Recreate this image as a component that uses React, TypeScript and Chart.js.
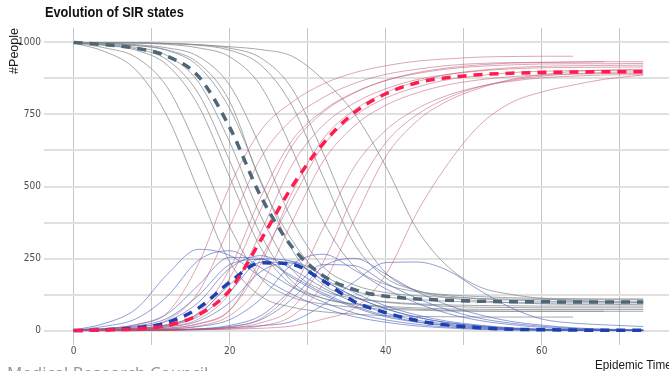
import React, { useEffect, useRef } from "react";
import { Chart, registerables } from "chart.js";

Chart.register(...registerables);

// Epidemic time grid
const T = [0, 4, 8, 12, 16, 20, 24, 28, 32, 36, 40, 44, 48, 52, 56, 60, 64, 68, 73];

const X_GRID = [0, 10, 20, 30, 40, 50, 60, 70];
const X_LABELS = [0, 20, 40, 60];
const Y_GRID = [0, 125, 250, 375, 500, 625, 750, 875, 1000];
const Y_LABELS = [0, 250, 500, 750, 1000];

// Mean trajectories (dashed)
const meanS = [1000, 992, 980, 952, 882, 705, 465, 290, 190, 142, 119, 110, 105, 102, 100, 100, 99, 99, 99];
const meanI = [0, 3, 10, 28, 78, 168, 235, 230, 172, 100, 62, 35, 19, 10, 5, 3, 2, 1, 1];
const meanR = [0, 2, 6, 18, 55, 140, 315, 500, 650, 757, 822, 860, 878, 888, 893, 896, 897, 898, 898];

// Individual simulations: Susceptible
const S_A = [998, 968, 904, 743, 486, 238, 119, 81, 65, 57, 52, 49, 48, 47, 47, 47, 47, null, null];
const S_B = [999, 981, 948, 844, 622, 361, 182, 116, 92, 81, 74, 71, 68, 67, 67, 67, 67, 67, 67];
const S_C = [999, 990, 973, 921, 780, 532, 286, 157, 112, 93, 84, 79, 75, 74, 73, 73, 73, 73, 73];
const S_D = [999, 991, 978, 939, 822, 589, 332, 170, 112, 90, 80, 74, 70, 68, 67, 67, 67, 67, null];
const S_E = [999, 992, 983, 954, 862, 654, 397, 212, 139, 112, 100, 93, 89, 87, 86, 85, 85, 85, 85];
const S_F = [999, 996, 989, 972, 917, 770, 519, 280, 159, 116, 98, 90, 84, 81, 80, 79, 79, 79, 79];
const S_G = [999, 997, 990, 974, 928, 795, 513, 313, 184, 137, 117, 108, 102, 99, 97, 96, 96, 96, 96];
const S_H = [999, 998, 992, 981, 951, 851, 634, 384, 221, 158, 132, 121, 115, 111, 109, 108, 107, 107, 107];
const S_I = [999, 999, 998, 993, 981, 950, 848, 628, 379, 221, 160, 135, 124, 118, 114, 112, 111, 110, 110];
const S_J = [999, 999, 999, 996, 990, 973, 921, 780, 532, 300, 183, 139, 120, 111, 106, 102, 101, 100, 100];
const S_K = [999, 999, 999, 997, 992, 980, 946, 839, 615, 362, 200, 138, 114, 104, 97, 93, 91, 91, 90];
const S_L = [999, 999, 998, 996, 992, 985, 975, 952, 870, 752, 570, 352, 221, 152, 126, 112, 105, 100, 97];

// Individual simulations: Infected
const I_A = [2, 25, 75, 195, 282, 261, 186, 126, 79, 48, 29, 16, 9, 4, 2, 1, 1, null, null];
const I_B = [1, 15, 41, 119, 244, 277, 218, 151, 99, 61, 37, 22, 12, 6, 3, 2, 1, 0, 0];
const I_C = [1, 7, 20, 58, 158, 254, 250, 183, 124, 80, 48, 29, 17, 9, 5, 2, 1, 1, 0];
const I_D = [1, 6, 16, 43, 122, 229, 247, 189, 130, 85, 52, 31, 18, 10, 5, 3, 1, 0, null];
const I_E = [1, 5, 13, 33, 98, 216, 260, 213, 148, 98, 61, 36, 22, 12, 6, 3, 2, 1, 0];
const I_F = [1, 3, 8, 20, 59, 159, 249, 241, 175, 118, 76, 46, 27, 16, 8, 4, 2, 1, 0];
const I_G = [1, 2, 6, 17, 49, 135, 237, 234, 174, 118, 76, 47, 27, 16, 8, 4, 2, 1, 0];
const I_H = [1, 2, 4, 13, 33, 97, 205, 238, 191, 131, 86, 54, 32, 19, 10, 5, 3, 1, 0];
const I_I = [1, 1, 2, 5, 14, 38, 110, 230, 265, 210, 145, 95, 59, 35, 21, 11, 6, 3, 2];
const I_J = [1, 1, 1, 3, 6, 18, 52, 142, 229, 225, 165, 112, 72, 43, 26, 15, 8, 4, 2];
const I_K = [1, 1, 1, 2, 5, 14, 38, 110, 222, 251, 196, 135, 88, 55, 32, 19, 10, 5, 3];
const I_L = [1, 1, 2, 3, 5, 10, 17, 32, 90, 170, 236, 238, 208, 140, 80, 40, 26, 20, 14];

// Individual simulations: Recovered
const R_A = [0, 7, 21, 62, 232, 501, 695, 793, 856, 895, 919, 935, 943, 949, 951, 952, 952, null, null];
const R_B = [0, 4, 11, 37, 134, 362, 600, 733, 809, 858, 889, 907, 920, 927, 930, 931, 932, 933, 933];
const R_C = [0, 3, 7, 21, 62, 214, 464, 660, 764, 827, 868, 892, 908, 917, 922, 925, 926, 926, 927];
const R_D = [0, 3, 6, 18, 56, 182, 421, 641, 758, 825, 868, 895, 912, 922, 928, 930, 932, 933, null];
const R_E = [0, 3, 4, 13, 40, 130, 343, 575, 713, 790, 839, 871, 889, 901, 908, 912, 913, 914, 915];
const R_F = [0, 1, 3, 8, 24, 71, 232, 479, 666, 766, 826, 864, 889, 903, 912, 917, 919, 920, 921];
const R_G = [0, 1, 4, 9, 23, 70, 250, 453, 642, 745, 807, 845, 871, 885, 895, 900, 902, 903, 904];
const R_H = [0, 0, 4, 6, 16, 52, 161, 378, 588, 711, 782, 825, 853, 870, 881, 887, 890, 892, 893];
const R_I = [0, 0, 0, 2, 5, 12, 42, 142, 356, 569, 695, 770, 817, 847, 865, 877, 883, 887, 888];
const R_J = [0, 0, 0, 1, 4, 9, 27, 78, 239, 475, 652, 749, 808, 846, 868, 883, 891, 896, 898];
const R_K = [0, 0, 0, 1, 3, 6, 16, 51, 163, 387, 604, 727, 798, 841, 871, 888, 899, 904, 907];
const R_L = [0, 0, 0, 1, 3, 5, 8, 16, 40, 78, 194, 410, 580, 712, 790, 828, 852, 872, 887];

const SIMS_S = [S_A, S_B, S_C, S_D, S_E, S_F, S_G, S_H, S_I, S_J, S_K, S_L];
const SIMS_I = [I_A, I_B, I_C, I_D, I_E, I_F, I_G, I_H, I_I, I_J, I_K, I_L];
const SIMS_R = [R_A, R_B, R_C, R_D, R_E, R_F, R_G, R_H, R_I, R_J, R_K, R_L];

const TICK_FONT = "'Liberation Sans Narrow', 'Arial Narrow', 'DejaVu Sans Condensed', 'Liberation Sans', Arial, sans-serif";

export default function App() {
  const ref = useRef<HTMLCanvasElement>(null);

  useEffect(() => {
    if (!ref.current) return;
    const pts = (arr: (number | null)[]) =>
      T.map((t, i) => (arr[i] == null ? null : { x: t, y: arr[i] as number })).filter(Boolean);
    const thin = (arr: (number | null)[], color: string) => ({
      data: pts(arr),
      borderColor: color,
      borderWidth: 1,
      pointRadius: 0,
      fill: false,
      cubicInterpolationMode: "monotone",
    });
    const mean = (arr: (number | null)[], color: string) => ({
      data: pts(arr),
      borderColor: color,
      borderWidth: 3.5,
      borderDash: [9, 7],
      pointRadius: 0,
      fill: false,
      cubicInterpolationMode: "monotone",
    });

    const datasets: any[] = [
      mean(meanR, "#ff1c4d"),
      mean(meanI, "#1c40b4"),
      mean(meanS, "#4e6676"),
      ...SIMS_R.map((a) => thin(a, "rgba(190,80,112,0.5)")),
      ...SIMS_I.map((a) => thin(a, "rgba(70,95,185,0.6)")),
      ...SIMS_S.map((a) => thin(a, "rgba(135,140,145,0.75)")),
    ];

    const chart = new Chart(ref.current, {
      type: "line",
      data: { datasets },
      options: {
        animation: false,
        responsive: false,
        layout: { padding: { top: 28, left: 0, right: 0, bottom: 0 } },
        plugins: {
          legend: { display: false },
          tooltip: { enabled: false },
          title: { display: false },
        },
        scales: {
          x: {
            type: "linear",
            min: -3.8,
            max: 76.3,
            afterBuildTicks: (s: any) => {
              s.ticks = X_GRID.map((v) => ({ value: v }));
            },
            afterFit: (s: any) => {
              s.height = 26;
            },
            ticks: {
              autoSkip: false,
              maxRotation: 0,
              padding: 0,
              color: "#4d4d4d",
              font: { family: TICK_FONT, size: 10 },
              callback: (v: any) => (X_LABELS.includes(Number(v)) ? String(v) : ""),
            },
            grid: { color: "#c6c6c6", lineWidth: 1, drawTicks: false },
            border: { display: false },
          },
          y: {
            type: "linear",
            min: -50,
            max: 1050,
            afterBuildTicks: (s: any) => {
              s.ticks = Y_GRID.map((v) => ({ value: v }));
            },
            afterFit: (s: any) => {
              s.width = 44;
            },
            ticks: {
              padding: 3,
              color: "#4d4d4d",
              font: { family: TICK_FONT, size: 10 },
              callback: (v: any) => (Y_LABELS.includes(Number(v)) ? String(v) : ""),
            },
            grid: { color: "#e0e0e0", lineWidth: 2, drawTicks: false },
            border: { display: false },
          },
        },
      } as any,
    });
    return () => chart.destroy();
  }, []);

  return (
    <div
      style={{
        position: "fixed",
        left: 0,
        top: 0,
        width: 669,
        height: 371,
        overflow: "hidden",
        background: "#ffffff",
      }}
    >
      <canvas ref={ref} width={669} height={371} style={{ display: "block", position: "absolute", left: 0, top: 0 }} />
      <div
        style={{
          position: "absolute",
          left: 45,
          top: 5,
          fontFamily: "'Liberation Sans', Arial, sans-serif",
          fontWeight: "bold",
          fontSize: 14,
          lineHeight: "14px",
          color: "#111",
          whiteSpace: "nowrap",
          transform: "scaleX(0.91)",
          transformOrigin: "left top",
        }}
      >
        Evolution of SIR states
      </div>
      <div
        style={{
          position: "absolute",
          left: 8,
          top: 28,
          fontFamily: "'Liberation Sans', Arial, sans-serif",
          fontSize: 12.5,
          lineHeight: "12.5px",
          color: "#1a1a1a",
          whiteSpace: "nowrap",
          writingMode: "vertical-rl",
          transform: "rotate(180deg)",
        }}
      >
        #People
      </div>
      <div
        style={{
          position: "absolute",
          left: 595,
          top: 357.5,
          fontFamily: "'Liberation Sans', Arial, sans-serif",
          fontSize: 13,
          lineHeight: "13px",
          color: "#1a1a1a",
          whiteSpace: "nowrap",
          transform: "scaleX(0.9)",
          transformOrigin: "left top",
        }}
      >
        Epidemic Time
      </div>
      <div
        style={{
          position: "absolute",
          left: 7,
          top: 363.7,
          fontFamily: "'Open Sans', 'Noto Sans', sans-serif",
          fontSize: 17,
          lineHeight: "17px",
          color: "#a09080",
          whiteSpace: "nowrap",
        }}
      >
        Medical Research Council
      </div>
    </div>
  );
}
